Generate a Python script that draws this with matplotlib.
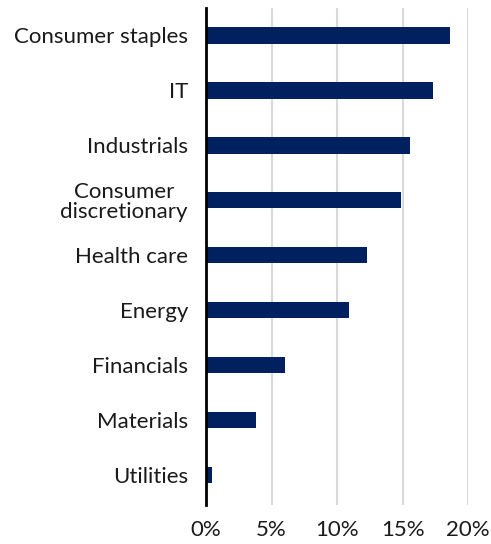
import matplotlib.pyplot as plt

sectors = ['Consumer staples', 'IT', 'Industrials', 'Consumer\ndiscretionary',
           'Health care', 'Energy', 'Financials', 'Materials', 'Utilities']
values = [18.65, 17.35, 15.55, 14.9, 12.3, 10.95, 6.0, 3.8, 0.45]
x_ticks = [0, 5, 10, 15, 20]
x_labels = ['0%', '5%', '10%', '15%', '20%']

plt.rcParams['font.family'] = ['Lato', 'DejaVu Sans']

fig = plt.figure(figsize=(4.91, 5.44), dpi=100)
ax = fig.add_axes([0.4196, 0.0717, 0.5336, 0.9136])

pos = list(range(len(sectors)))
ax.barh(pos, values, height=0.3, color='#002060', zorder=3)

ax.set_xlim(0, 20)
ax.set_ylim(8.55, -0.5)
ax.set_yticks(pos)
ax.set_yticklabels(sectors, fontsize=16, color='#1a1a1a', linespacing=1.0,
                   multialignment='center')
ax.tick_params(axis='y', length=0, pad=13)
ax.set_xticks(x_ticks)
ax.set_xticklabels(x_labels, fontsize=16, color='#1a1a1a')
ax.tick_params(axis='x', length=0, pad=11)

ax.grid(axis='x', color='#d9d9d9', linewidth=1.5, zorder=0)
for s in ['top', 'right', 'bottom']:
    ax.spines[s].set_visible(False)
ax.spines['left'].set_linewidth(2)
ax.spines['left'].set_color('black')
ax.spines['left'].set_zorder(4)

fig.savefig('out.png', dpi=100)
